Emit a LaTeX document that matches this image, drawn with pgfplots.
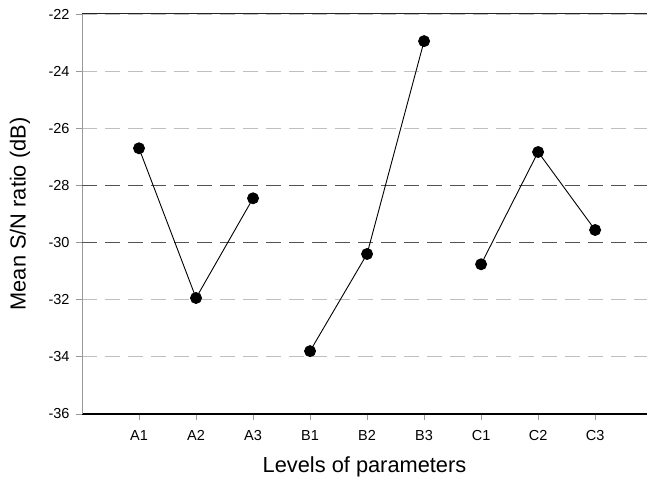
\documentclass[border=0pt]{standalone}
\usepackage{pgfplots}
\pgfplotsset{compat=1.18}
\usepackage{fontspec}
\setmainfont{Liberation Sans}
\begin{document}
\begin{tikzpicture}
\begin{axis}[
    scale only axis, width=565pt, height=400pt,
    xmin=0, xmax=9.91, ymin=-36, ymax=-22,
    axis x line*=bottom, axis y line*=left,
    x axis line style={-, black, line width=1.3pt},
    y axis line style={-, gray!80, line width=0.8pt},
    xtick={1,...,9},
    xticklabels={A1,A2,A3,B1,B2,B3,C1,C2,C3},
    ytick={-36,-34,...,-22},
    tick align=outside, major tick length=6pt,
    tick style={gray!80, line width=0.8pt},
    ymajorgrids,
    grid style={gray!50, line width=0.9pt, dash pattern=on 15pt off 8pt},
    extra y ticks={-30,-28}, extra y tick labels={},
    extra y tick style={grid style={gray!65!black, line width=1.6pt, dash pattern=on 15pt off 8pt}, major tick length=0pt},
    ticklabel style={font=\fontsize{14.5}{16}\selectfont},
    xticklabel style={yshift=-7pt},
    yticklabel style={xshift=-3pt},
    /pgf/number format/assume math mode=true,
    xlabel={Levels of parameters}, ylabel={Mean S/N ratio (dB)},
    label style={font=\fontsize{21.8}{26}\selectfont},
    xlabel style={at={(axis description cs:0.5,-0.1325)}, anchor=center},
    ylabel style={at={(axis description cs:-0.1097,0.5)}, anchor=center},
    clip=false,
]
\coordinate (bl) at (rel axis cs:0,0);
\coordinate (tr) at (rel axis cs:1,1);
\draw[gray!30!black, line width=1pt] (rel axis cs:0,1) -- (rel axis cs:1,1);
% factor A
\addplot[black, line width=0.9pt, mark=*, mark size=5.5pt] coordinates {(1,-26.7) (2,-31.94) (3,-28.45)};
% factor B
\addplot[black, line width=0.9pt, mark=*, mark size=5.5pt] coordinates {(4,-33.8) (5,-30.4) (6,-22.95)};
% factor C
\addplot[black, line width=0.9pt, mark=*, mark size=5.5pt] coordinates {(7,-30.76) (8,-26.83) (9,-29.56)};
\end{axis}
\pgfresetboundingbox
\path[use as bounding box] ([xshift=-82pt,yshift=-69pt]bl) rectangle ([yshift=14pt]tr);
\end{tikzpicture}
\end{document}
